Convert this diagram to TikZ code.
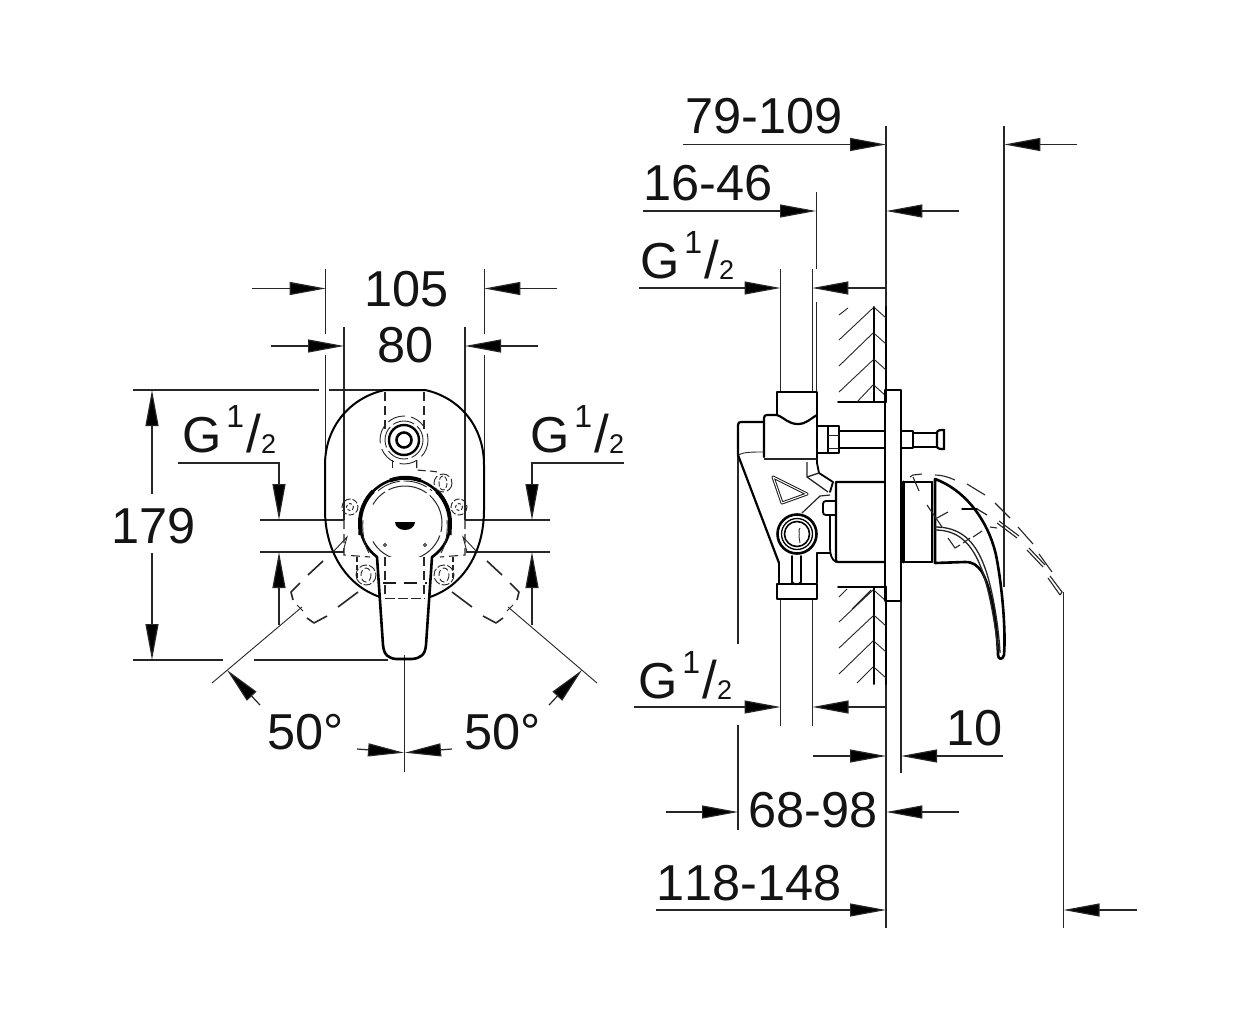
\documentclass[tikz,border=0pt]{standalone}
\usepackage{fontspec}
\setmainfont[Kerning=Off]{Liberation Sans}
\usetikzlibrary{arrows.meta}
\newcommand{\gq}{G\hspace{5pt}\raisebox{25pt}{\fontsize{32}{32}\selectfont 1}\hspace{2pt}{\fontsize{53}{53}\selectfont /}\raisebox{-1pt}{\fontsize{27}{27}\selectfont 2}}
\tikzset{
  x=1pt,y=-1pt,
  thinl/.style={line width=1.2pt,black!85},
  body/.style={line width=1.8pt,black,line join=round,line cap=round},
  heavy/.style={line width=3pt,black,line join=round,line cap=round},
  lite/.style={line width=0.9pt,black!85},
  dsh/.style={line width=1.1pt,black!85,dash pattern=on 9pt off 5pt},
  dshb/.style={line width=1.7pt,black!90,dash pattern=on 13pt off 8pt},
  arr/.style={thinl,-{Triangle[length=36pt,width=13pt,fill=black]}},
  label/.style={anchor=base west,inner sep=0pt,font=\fontsize{50.5}{50}\selectfont,text=black!92},
}
\begin{document}
\begin{tikzpicture}
\useasboundingbox (0,0) rectangle (1252,1024);
\fill[white] (0,0) rectangle (1252,1024);

% ---------- texts
\node[label] (t105) at (364,306) {105};
\node[label] (t80) at (377,362) {80};
\node[label] (t179) at (111,543) {179};
\node[label] (gl) at (182,452) {\gq};
\node[label] (gr) at (530,452) {\gq};
\node[label] (t50l) at (267,749) {50°};
\node[label] (t50r) at (464,749) {50°};
\node[label] (t79) at (685,134) {79-109};
\node[label] (t16) at (643,201) {16-46};
\node[label] (gt) at (640,279) {\gq};
\node[label] (gb) at (638,698) {\gq};
\node[label] (t10) at (946,745) {10};
\node[label] (t68) at (748,827) {68-98};
\node[label] (t118) at (656,900) {118-148};

% ---------- front view: dimensions
\draw[arr] (252,288.5) -- (325.7,288.5);
\draw[arr] (557,288.5) -- (484.3,288.5);
\draw[arr] (271,346) -- (344,346);
\draw[arr] (538,346) -- (465,346);
\draw[thinl] (325.7,269) -- (325.7,334) (325.7,355) -- (325.7,470);
\draw[thinl] (484.3,269) -- (484.3,334) (484.3,355) -- (484.3,470);
\draw[thinl] (344,327) -- (344,520);
\draw[thinl] (465,327) -- (465,520);
\draw[thinl] (133,390) -- (319,390) (329,390) -- (385,390);
\draw[thinl] (133,660) -- (223,660) (254,660) -- (388,660);
\draw[arr] (152,494) -- (152,390);
\draw[arr] (152,553) -- (152,660);
% G 1/2 left
\draw[arr] (178,463) -- (279,463) -- (279,520);
\draw[thinl] (260,520) -- (344,520);
\draw[thinl] (260,552) -- (344,552);
\draw[arr] (279,625) -- (279,552);
% G 1/2 right
\draw[arr] (624,463) -- (532,463) -- (532,520);
\draw[thinl] (465,520) -- (550,520);
\draw[thinl] (466,552) -- (550,552);
\draw[arr] (532,625) -- (532,552);
% angle
\draw[thinl] (404.5,655) -- (404.5,772);
\draw[lite] (212,683) -- (302,607);
\draw[lite] (597,683) -- (508,607);
\draw[arr] (260,705) -- (227,670);
\draw[arr] (549,705) -- (582,670);
\draw[arr] (357,749) -- (404,752.7);
\draw[arr] (452,749) -- (405,752.7);

% ---------- front view: fitting
\draw[body,line width=2pt] (380,597) .. controls (345,585) and (325,550) .. (325,510)
  -- (325,465) .. controls (325,425) and (352,397) .. (385,390) -- (425,390)
  .. controls (458,397) and (484,425) .. (484,465) -- (484,510)
  .. controls (484,550) and (465,585) .. (430,597);
\fill[white] (405,523) circle (45);
\draw[heavy,line width=2.6pt] (377,557) .. controls (365,548) and (360,535) .. (360,523)
  arc[start angle=180,end angle=360,radius=45] .. controls (450.5,535) and (445,548) .. (432,557);
\draw[heavy,line width=4pt,line cap=butt] (360.5,535) -- (360,523) arc[start angle=180,end angle=225,radius=45];
\draw[heavy,line width=4pt,line cap=butt] (449.5,535) -- (450,523) arc[start angle=0,end angle=-45,radius=45];
\draw[heavy,line width=4pt,line cap=butt] (390,480.5) arc[start angle=250,end angle=290,radius=45];
\draw[lite] (369,553) .. controls (364,545) and (362,532) .. (363,520);
\draw[lite] (441,553) .. controls (446,545) and (448,532) .. (447,520);
\draw[line width=1pt,black!85,dash pattern=on 40pt off 4pt] (405,523) ++(150:37) arc[start angle=150,end angle=-150,radius=37];
\draw[lite,dash pattern=on 24pt off 4pt] (405,523) ++(230:42) arc[start angle=230,end angle=310,radius=42];
\fill[black] (395,522) -- (415,522) .. controls (415,527) and (410,530) .. (405,530) .. controls (400,530) and (395,527) .. (395,522);
\draw[lite] (385,545) circle (1.6) (425,545) circle (1.6);
% handle
\fill[white] (377,557) -- (385,653) -- (425,653) -- (432,557) -- cycle;
\draw[heavy,line width=2.6pt] (377,557) -- (383,645) .. controls (384,655) and (388,658) .. (396,659)
  -- (412,659) .. controls (421,658) and (425,655) .. (426,645) -- (432,557);
\draw[dshb] (383,583) -- (427,583);
\draw[lite,dash pattern=on 10pt off 3pt] (385,598) -- (425,598);
\draw[dsh] (385,557) -- (385,598) (424,557) -- (424,598);
% top ring
\draw[dsh] (385,392) -- (385,430) (424,392) -- (424,430);
\draw[heavy,line width=2.6pt] (404,440) circle (7.5);
\draw[heavy,line width=2.4pt] (404,440) circle (15);
\draw[lite,dash pattern=on 22pt off 4pt] (404,440) circle (19);
\draw[lite,dash pattern=on 18pt off 6pt] (404,440) circle (24);
\draw[dsh,dash pattern=on 8pt off 3pt] (392.7,460) -- (392.7,470);
\draw[dsh,dash pattern=on 8pt off 3pt] (416.7,460) -- (416.7,470) -- (428,471);
\draw[dsh,dash pattern=on 7pt off 2pt] (430,471) -- (438,472);
\draw[lite,dash pattern=on 10pt off 3pt] (443,483) circle (9);
\draw[lite,dash pattern=on 5pt off 2pt] (443,483) ellipse (4 and 7);
% bolts
\draw[lite,dash pattern=on 6pt off 2pt] (350,507) circle (8) (459,507) circle (8);
\draw[lite,dash pattern=on 3pt off 2pt] (350,507) circle (3.5) (459,507) circle (3.5);
\draw[lite,dash pattern=on 8pt off 2pt] (366,575) circle (10) (444,575) circle (10);
\draw[lite,dash pattern=on 6pt off 3pt] (366,575) ellipse (5 and 7) (444,575) ellipse (5 and 7);
% dashed frame
\draw[dsh] (344,520) -- (344,555) -- (370,557);
\draw[dsh] (465,520) -- (465,555) -- (440,557);
\draw[dsh,dash pattern=on 5pt off 3pt] (357,557) -- (357,578) (453,557) -- (453,578);
% triangles at frame
\draw[lite] (333,552) -- (347,537) -- (343,552);
\draw[lite] (477,552) -- (463,537) -- (467,552);
% dashed diverters
\foreach \s in {1,-1}{
\begin{scope}[shift={(405,0)},xscale=\s,shift={(-405,0)}]
\draw[line width=1.6pt,black!85] (323,561) -- (308,575);
\draw[line width=1.6pt,black!85,line join=round] (300,583) -- (291,592) -- (293,600);
\draw[line width=1.6pt,black!85,line join=round] (307,618) -- (314,623) -- (327,616);
\draw[line width=1.6pt,black!85] (338,607) -- (358,592);
\draw[lite] (297,605) -- (303,611);
\end{scope}}

% ---------- side view: dimensions
\draw[thinl] (886,126) -- (886,307) (886,684) -- (886,928);
\draw[thinl] (1004,126) -- (1004,587);
\draw[arr] (683,144.5) -- (886,144.5);
\draw[arr] (1077,144.5) -- (1004.3,144.5);
\draw[arr] (643,211) -- (816,211);
\draw[arr] (959,211) -- (886.3,211);
\draw[thinl] (816.5,192) -- (816.5,269) (816.5,302) -- (816.5,392);
\draw[arr] (639,288) -- (780.5,288);
\draw[arr] (886,288) -- (812.3,288);
\draw[thinl] (780.7,269) -- (780.7,392);
\draw[thinl] (812.3,269) -- (812.3,392);
\draw[thinl] (780.7,599) -- (780.7,726);
\draw[thinl] (812.5,599) -- (812.5,726);
\draw[arr] (634,707) -- (780.5,707);
\draw[arr] (886,707) -- (812.5,707);
\draw[arr] (813,756) -- (886,756);
\draw[arr] (1003,756) -- (901,756);
\draw[thinl] (901,601) -- (901,773);
\draw[thinl] (738,455) -- (738,644) (738,725) -- (738,830);
\draw[arr] (666,812) -- (738,812);
\draw[arr] (959,812) -- (886.3,812);
\draw[arr] (656,910) -- (886,910);
\draw[arr] (1137,910) -- (1063.5,910);
\draw[thinl] (1063.5,592) -- (1063.5,928);

% ---------- wall hatching
\draw[heavy,line width=2pt] (873.7,307) -- (873.7,402);
\draw[heavy,line width=2.6pt] (886,307) -- (886,402);
\draw[body] (838,402) -- (886,402);
\draw[lite] (839,315) -- (848,308) (839,340) -- (873,308) (839,366) -- (873,333) (839,392) -- (873,360) (857,402) -- (873,385);
\draw[lite] (873.7,307) -- (886,318) (873.7,333) -- (886,344) (873.7,359) -- (886,370) (873.7,385) -- (886,396);
\draw[heavy,line width=2pt] (873.7,587) -- (873.7,684);
\draw[heavy,line width=2.6pt] (886,587) -- (886,684);
\draw[body] (838,587) -- (886,587);
\draw[lite] (839,597) -- (847,589) (852,609) -- (871,590) (839,622) -- (873,590) (839,648) -- (873,616) (839,674) -- (873,641) (857,683) -- (873,667);
\draw[lite] (873.7,590) -- (886,601) (873.7,615) -- (886,626) (873.7,641) -- (886,652) (873.7,667) -- (886,678);

% ---------- side view: valve
\draw[body,line width=2.2pt] (885,390) -- (901,390) -- (901,601) -- (885,601) -- cycle;
\draw[heavy,line width=2.6pt] (901,425) -- (901,601);
% top fitting
\draw[body,line width=2.2pt] (777,415) -- (777,392) -- (817,392) -- (817,463);
\draw[body,line width=2.2pt] (777,415) .. controls (785,418) and (788,424) .. (798,424) .. controls (806,424) and (810,419) .. (817,415);
\draw[body,line width=2.2pt] (777,415) -- (767,415) .. controls (765,415) and (764,416) .. (764,418) -- (764,457);
\draw[lite,line width=1.3pt] (764,459) -- (817,459);
\draw[body,line width=2.2pt] (764,422) -- (741,422) .. controls (739,422) and (738,423) .. (738,425) -- (738,455) -- (779,563);
\draw[lite] (738,455) .. controls (744,452) and (752,452) .. (764,452);
% nut
\draw[body,line width=2.2pt] (817,426) -- (839,426) -- (839,453) -- (817,453);
\draw[body] (828,426) -- (828,453);
\draw[lite] (828,435) -- (839,435) (828,448) -- (839,448);
\draw[body,line width=2.2pt] (839,431) -- (885,431) (839,448) -- (885,448);
% rod right
\draw[body] (901,431) -- (913,431) -- (913,448) -- (901,448);
\draw[body] (913,433) -- (937,433) (913,447) -- (937,447);
\draw[body,line width=2.2pt] (937,433) .. controls (937,430) and (940,430) .. (944,430) -- (944,449) .. controls (940,449) and (937,449) .. (937,446) -- cycle;
% main body
\draw[body,line width=2.2pt] (885,482) -- (836,482) -- (836,560) .. controls (836,562) and (837,562) .. (839,562) -- (885,562);
% castings
\draw[body] (817,463) -- (819,473) -- (833,482) -- (830,492);
\draw[lite,line width=1.3pt] (807,462) -- (807,477) -- (828,492);
\draw[lite,line width=1.3pt] (807,477) -- (819,473);
\draw[lite,line width=1.2pt] (802,513) -- (820,496) -- (830,495);
\draw[body] (836,501) -- (826,501) .. controls (824,501) and (823,502) .. (823,504) -- (823,512) .. controls (823,514) and (824,515) .. (826,515) -- (836,515);
\draw[body] (830,515) -- (830,548) .. controls (830,555) and (832,560) .. (836,562);
\draw[body] (817,553) -- (830,553);
\draw[body] (817,553) -- (817,583);
% triangle logo
\draw[line width=3pt,black!90,line join=round] (773,477) -- (782,503) -- (807,494) -- cycle;
\draw[line width=1pt,white,line join=round] (773,477) -- (782,503) -- (807,494) -- cycle;
% port
\draw[heavy,line width=2.6pt] (797,534) circle (19.5);
\draw[body,line width=1.3pt] (797,534) circle (15.5);
\draw[body,line width=1.6pt] (797,534) circle (12.5);
\draw[lite] (800,528) .. controls (798,530) and (800,534) .. (799,537) (800,543) -- (799,537);
% lower fitting
\draw[body] (779,563) -- (779,583);
\draw[body] (792,556) -- (792,583);
\draw[body] (801,556) -- (801,582) .. controls (800,585) and (793,585) .. (792,582);
\draw[body,line width=2.4pt] (777,584) rectangle (817,599);

% ---------- side view: handle
\draw[body,line width=2.2pt] (903,482) -- (932,482) (903,562) -- (932,562);
\draw[heavy] (903,482) -- (903,562);
\draw[body] (932,482) -- (932,562);
\draw[body,line width=2.2pt] (935,479) -- (935,563);
\draw[body,line width=2.6pt,fill=white] (935,479) .. controls (965,490) and (988,520) .. (996,555) .. controls (1002,585) and (1006,630) .. (1004,655)
  .. controls (1003,660) and (998,660) .. (998,655) .. controls (997,625) and (992,590) .. (982,572) .. controls (977,565) and (973,562) .. (965,562) -- (935,563) -- cycle;
\draw[lite,line width=1.3pt] (935,527) .. controls (960,527) and (975,540) .. (985,568) .. controls (993,590) and (999,630) .. (1000,653);
\draw[lite,line width=1.3pt] (935,530) .. controls (958,530) and (972,543) .. (982,570) .. controls (990,592) and (996,630) .. (998,650);
\draw[thinl] (1004,520) -- (1004,587);
% handle swing (dashed)
\draw[lite,line width=1.1pt] (910,477) -- (913,475) -- (922,474) (913,477) -- (919,491);
\draw[lite,line width=1.1pt] (927,505) -- (942,527) (937,518) -- (948,512);
\draw[lite,line width=1.1pt] (935,475) .. controls (942,475) and (948,477) .. (955,480);
\draw[lite,line width=1.1pt] (967,484) -- (985,495) (995,503) -- (1010,518) (1018,527) -- (1033,544) (1039,554) -- (1052,572);
\draw[lite,line width=1.1pt] (997,523) -- (1017,538) (1027,550) -- (1043,567) (1048,578) -- (1060,595);
\draw[lite,line width=1.1pt] (999,521) -- (1019,536) (1029,548) -- (1045,565) (1050,576) -- (1062,592) -- (1060,595);
\draw[body,line width=1.5pt] (962,509) -- (977,509);
\draw[lite,line width=1.2pt] (977,509) -- (987,515);
\draw[lite,line width=1.1pt] (973,537) -- (982,531) (990,527) -- (997,528);
\draw[lite,line width=1.1pt] (948,538) -- (955,548) -- (960,545) (963,543) -- (970,538);
\end{tikzpicture}
\end{document}
